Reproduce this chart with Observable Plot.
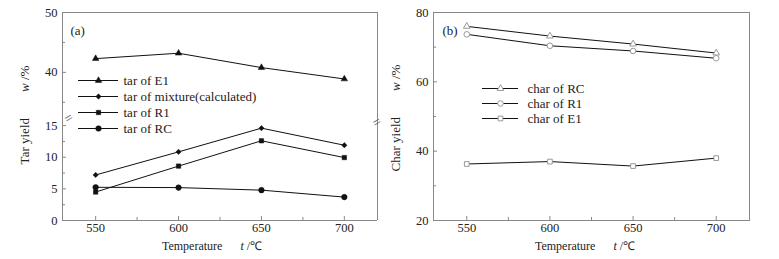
<!DOCTYPE html>
<html><head><meta charset="utf-8">
<script src="https://cdn.jsdelivr.net/npm/d3@7"></script>
<script src="https://cdn.jsdelivr.net/npm/@observablehq/plot@0.6"></script>
<style>
body{margin:0;background:#fff;}
#c{position:relative;width:779px;height:259px;font-family:"Liberation Serif",serif;color:#222;overflow:hidden;}
#c svg{position:absolute;}
.lab{position:absolute;font-size:12px;white-space:pre;line-height:14px;color:#222;}
.rot{transform:translate(-50%,-50%) rotate(-90deg);transform-origin:center;font-size:13px;}
.hor{transform:translate(-50%,-50%);}
</style></head><body><div id="c"></div>
<script>
// ---- data ----
const temps = [550, 600, 650, 700];
const tarE1 = [42.3, 43.2, 40.8, 38.9];
const tarMix = [7.2, 10.85, 14.6, 11.9];
const tarR1 = [4.5, 8.6, 12.6, 9.95];
const tarRC = [5.25, 5.2, 4.8, 3.7];
const charRC = [76.0, 73.2, 70.9, 68.3];
const charR1 = [73.7, 70.4, 68.9, 66.8];
const charE1 = [36.3, 37.0, 35.7, 38.0];
const xTicks = [550, 600, 650, 700];
const xMinor = [575, 625, 675];
const yTopTicks = [40, 50];
const yTopMinor = [35, 45];
const yBotTicks = [0, 5, 10, 15];
const yBotMinor = [2.5, 7.5, 12.5];
const yCharTicks = [20, 40, 60, 80];
const yCharMinor = [30, 50, 70];
const tarNames = ["tar of E1", "tar of mixture(calculated)", "tar of R1", "tar of RC"];
const charNames = ["char of RC", "char of R1", "char of E1"];

const XDOM = [530, 720];
const FR = "#888";
const FONT = {fontFamily: "Liberation Serif, serif", fontSize: "12.5px", background: "transparent", overflow: "visible", color: "#222"};

const tarSeries = [
  {name: tarNames[0], values: tarE1, symbol: "triangle2", r: 3.1},
  {name: tarNames[1], values: tarMix, symbol: "diamond2", r: 2.4},
  {name: tarNames[2], values: tarR1, symbol: "square2", r: 2.8},
  {name: tarNames[3], values: tarRC, symbol: "circle", r: 2.8}
];
const charSeries = [
  {name: charNames[0], values: charRC, symbol: "triangle2", r: 3.2},
  {name: charNames[1], values: charR1, symbol: "circle", r: 2.8},
  {name: charNames[2], values: charE1, symbol: "square2", r: 3.0}
];
const rows = (s) => s.values.map((v, i) => ({t: temps[i], v, name: s.name}));
const tarRows = tarSeries.flatMap(rows);
const charRows = charSeries.flatMap(rows);

const c = document.getElementById("c");
function place(el, left, top) { el.style.left = left + "px"; el.style.top = top + "px"; c.append(el); }
function label(html, x, y, cls) { const d = document.createElement("div"); d.className = "lab " + cls; d.innerHTML = html; d.style.left = x + "px"; d.style.top = y + "px"; c.append(d); }

function seriesMarks(data, list, filled) {
  const marks = [Plot.line(data, {x: "t", y: "v", z: "name", stroke: "#111", strokeWidth: 1})];
  for (const s of list) {
    marks.push(Plot.dot(data.filter(d => d.name === s.name), {
      x: "t", y: "v", symbol: () => s.symbol, r: s.r,
      fill: filled ? "#111" : "white", stroke: filled ? "#111" : "#999", strokeWidth: filled ? 0.5 : 1
    }));
  }
  return marks;
}
const yAx = (ticks, size) => Plot.axisY(ticks, {tickSize: -size, tickPadding: size === 4 ? 9 : 0, stroke: FR, fill: "#222", label: null, tickFormat: size === 4 ? (d => d) : (() => "")});
const xAx = (ticks, size) => Plot.axisX(ticks, {tickSize: -size, tickPadding: size === 4 ? 7 : 0, stroke: FR, fill: "#222", label: null, tickFormat: size === 4 ? (d => d) : (() => "")});

// ---- left panel, upper section ----
const topE1 = tarRows.filter(d => d.name === tarNames[0]);
place(Plot.plot({
  width: 390, height: 115, marginLeft: 62, marginRight: 13, marginTop: 12, marginBottom: 0,
  style: FONT,
  x: {domain: XDOM, axis: null},
  y: {domain: [32.8, 50]},
  marks: [
    Plot.ruleX(XDOM, {stroke: FR}),
    Plot.ruleY([50], {stroke: FR}),
    yAx(yTopTicks, 4), yAx(yTopMinor, 3),
    ...seriesMarks(topE1, [tarSeries[0]], true),
    Plot.text(["(a)"], {frameAnchor: "top-left", dx: 8, dy: 13, textAnchor: "start", fontSize: 13})
  ]
}), 0, 0);

// ---- left panel, lower section ----
const lowRows = tarRows.filter(d => d.name !== tarNames[0]);
place(Plot.plot({
  width: 390, height: 144, marginLeft: 62, marginRight: 13, marginTop: 0, marginBottom: 39,
  style: FONT,
  x: {domain: XDOM},
  y: {domain: [0, 16.6]},
  marks: [
    Plot.ruleX(XDOM, {stroke: FR}),
    Plot.ruleY([0], {stroke: FR}),
    yAx(yBotTicks, 4), yAx(yBotMinor, 3),
    xAx(xTicks, 4), xAx(xMinor, 3),
    ...seriesMarks(lowRows, tarSeries.slice(1), true),
    Plot.text(["="], {frameAnchor: "top-left", rotate: -30, fontSize: 14, fill: "#666"}),
    Plot.text(["="], {frameAnchor: "top-right", rotate: -30, fontSize: 14, fill: "#666"})
  ]
}), 0, 115);

// ---- right panel ----
place(Plot.plot({
  width: 389, height: 259, marginLeft: 43, marginRight: 30, marginTop: 12, marginBottom: 39,
  style: FONT,
  x: {domain: XDOM},
  y: {domain: [20, 80]},
  marks: [
    Plot.frame({stroke: FR}),
    yAx(yCharTicks, 4), yAx(yCharMinor, 3),
    xAx(xTicks, 4), xAx(xMinor, 3),
    ...seriesMarks(charRows, charSeries, false),
    Plot.text(["(b)"], {frameAnchor: "top-left", dx: 9, dy: 13, textAnchor: "start", fontSize: 13})
  ]
}), 390, 0);

// ---- legends ----
function legend(list, filled, w, h, lineLen, markX, textX) {
  return Plot.plot({
    width: w, height: h, margin: 0, marginTop: 8, marginBottom: 8,
    style: FONT,
    x: {domain: [0, w], range: [0, w], axis: null},
    y: {type: "point", domain: list.map(s => s.name), padding: 0, axis: null},
    marks: [
      Plot.ruleY(list, {y: "name", x1: 0, x2: lineLen, stroke: "#111", strokeWidth: 1}),
      Plot.dot(list, {x: markX, y: "name", symbol: "symbol", r: "r", fill: filled ? "#111" : "white", stroke: filled ? "#111" : "#999", strokeWidth: filled ? 0.5 : 1}),
      Plot.text(list, {x: textX, y: "name", text: "name", textAnchor: "start", fontSize: 13, fill: "#222"})
    ],
    symbol: {type: "identity"},
    r: {type: "identity"}
  });
}
place(legend(tarSeries, true, 200, 65, 40, 20, 45), 78, 71);
place(legend(charSeries, false, 140, 47, 36, 18, 45), 482, 79);

// ---- axis titles ----
label('Tar yield        <i>w</i> /%', 25, 115, "rot");
label('Char yield        <i>w</i> /%', 396, 118, "rot");
label('Temperature      <i>t</i> /℃', 212, 246, "hor");
label('Temperature      <i>t</i> /℃', 585, 246, "hor");
</script></body></html>
